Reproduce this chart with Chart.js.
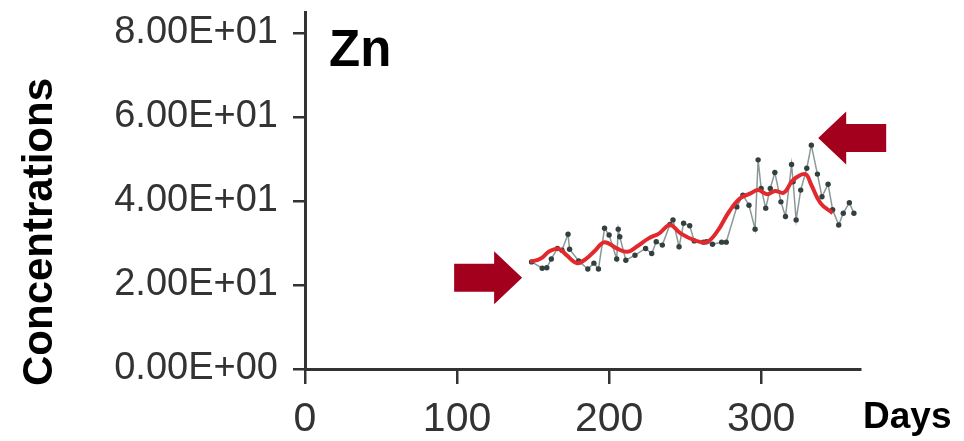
<!DOCTYPE html>
<html>
<head>
<meta charset="utf-8">
<script src="https://cdn.jsdelivr.net/npm/chart.js@4.4.1/dist/chart.umd.min.js"></script>
<style>
  html, body { margin: 0; padding: 0; background: #fff; }
  #wrap { width: 964px; height: 441px; }
</style>
</head>
<body>
<div id="wrap"><canvas id="myChart" width="964" height="441"></canvas></div>
<script>
// raw measurements (grey line with dots)
const rawDays = [149, 156, 159, 162, 166, 169, 173, 174, 180, 186, 190, 193, 197, 200, 205, 206, 207, 211,
  217, 224, 228, 231, 235, 240, 242, 246, 249, 253, 256, 262, 264, 268, 274, 277, 284, 288, 292, 296,
  298, 300, 303, 306, 309, 313, 316, 320, 321, 323, 326, 330, 333, 337, 340, 344, 347, 351, 354, 358, 361];
const rawValues = [25.5, 24.0, 24.1, 26.2, 28.7, 28.3, 32.1, 28.5, 25.7, 23.8, 25.2, 23.8, 33.5, 31.9, 26.2, 33.3, 31.5, 25.9,
  27.1, 28.7, 27.5, 30.3, 29.5, 34.4, 35.5, 29.1, 34.7, 34.1, 30.5, 30.2, 30.3, 29.7, 30.2, 30.2, 38.6, 41.4, 39.0, 33.3,
  49.8, 43.0, 38.3, 43.0, 46.8, 39.8, 36.3, 48.7, 44.6, 35.5, 42.6, 47.8, 53.3, 46.4, 41.0, 44.0, 37.9, 34.3, 37.1, 39.6, 37.1];

// smoothed trend (red)
const smoothDays = [148, 155, 161, 167, 172, 179, 185, 191, 197, 205, 212, 218, 226, 233, 240, 247, 256, 264,
  271, 279, 286, 293, 298, 304, 309, 315, 321, 329, 333, 339, 347];
const smoothValues = [25.5, 26.3, 28.1, 28.6, 27.1, 25.2, 26.3, 28.3, 30.2, 28.7, 27.9, 29.1, 31.1, 32.3, 34.3, 32.3, 30.7, 30.2,
  32.7, 37.5, 40.6, 41.8, 42.6, 41.6, 42.4, 42.0, 45.0, 46.4, 43.8, 39.5, 37.1];

const yTicks = [0, 20, 40, 60, 80];
const xTicks = [0, 100, 200, 300];

// arrows: tip position in data units, direction
const arrowDays = [142.8, 337.5];
const arrowValues = [21.7, 55.0];
const arrowDirs = ['right', 'left'];

function sci(v) {
  if (v === 0) return '0.00E+00';
  const e = Math.floor(Math.log10(Math.abs(v)));
  const m = v / Math.pow(10, e);
  return m.toFixed(2) + 'E' + (e < 0 ? '-' : '+') + String(Math.abs(e)).padStart(2, '0');
}

const axisColor = '#333';
const fam = 'Liberation Sans, Arial, sans-serif';

const extras = {
  id: 'extras',
  afterDraw(chart) {
    const c = chart.ctx;
    const xs = chart.scales.x, ys = chart.scales.y;
    c.save();
    // arrows
    c.fillStyle = '#a3001e';
    arrowDays.forEach((d, i) => {
      const tx = xs.getPixelForValue(d), ty = ys.getPixelForValue(arrowValues[i]);
      const s = arrowDirs[i] === 'right' ? -1 : 1;
      const len = 68, head = 28, hh = 26.5, bh = 14;
      c.beginPath();
      c.moveTo(tx, ty);
      c.lineTo(tx + s * head, ty - hh);
      c.lineTo(tx + s * head, ty - bh);
      c.lineTo(tx + s * len, ty - bh);
      c.lineTo(tx + s * len, ty + bh);
      c.lineTo(tx + s * head, ty + bh);
      c.lineTo(tx + s * head, ty + hh);
      c.closePath();
      c.fill();
    });
    // texts
    c.fillStyle = '#000';
    c.textBaseline = 'alphabetic';
    c.textAlign = 'left';
    c.font = 'bold 51px ' + fam;
    c.fillText('Zn', chart.chartArea.left + 24, 66);
    c.font = 'bold 37px ' + fam;
    c.fillText('Days', 863, 428);
    c.translate(52, 386);
    c.rotate(-Math.PI / 2);
    c.font = 'bold 42px ' + fam;
    c.fillText('Concentrations', 0, 0);
    c.restore();
  }
};

const ctx = document.getElementById('myChart').getContext('2d');

const config = {
  type: 'line',
  data: {
    datasets: [
      {
        label: 'smoothed',
        data: smoothDays.map((d, i) => ({ x: d, y: smoothValues[i] })),
        borderColor: '#e02a2e',
        borderWidth: 4,
        pointRadius: 0,
        tension: 0.4,
        fill: false
      },
      {
        label: 'Zn',
        data: rawDays.map((d, i) => ({ x: d, y: rawValues[i] })),
        borderColor: '#8c9898',
        borderWidth: 1.5,
        pointRadius: 2.7,
        pointBackgroundColor: '#34403f',
        pointBorderWidth: 0,
        tension: 0,
        fill: false
      }
    ]
  },
  options: {
    responsive: false,
    animation: false,
    devicePixelRatio: 1,
    layout: { padding: { top: 12, right: 104, left: 0, bottom: 0 } },
    plugins: { legend: { display: false }, tooltip: { enabled: false } },
    scales: {
      x: {
        type: 'linear',
        min: 0,
        max: 365,
        afterBuildTicks: s => { s.ticks = xTicks.map(v => ({ value: v })); },
        afterFit: s => { s.height = 72; s.paddingLeft = 0; s.paddingRight = 0; },
        grid: { drawOnChartArea: false, drawTicks: true, tickLength: 15, tickColor: axisColor, lineWidth: 2.5 },
        border: { display: true, color: axisColor, width: 3 },
        ticks: { font: { family: fam, size: 41 }, color: '#333', padding: 11, maxRotation: 0 }
      },
      y: {
        min: 0,
        max: 85,
        afterBuildTicks: s => { s.ticks = yTicks.map(v => ({ value: v })); },
        afterFit: s => { s.width = 305; s.paddingTop = 0; s.paddingBottom = 0; },
        grid: { drawOnChartArea: false, drawTicks: true, tickLength: 12, tickColor: axisColor, lineWidth: 2.5 },
        border: { display: true, color: axisColor, width: 3 },
        ticks: { font: { family: fam, size: 38 }, color: '#333', padding: 15, callback: v => sci(v) }
      }
    }
  },
  plugins: [extras]
};

const myChart = new Chart(ctx, config);
</script>
</body>
</html>
